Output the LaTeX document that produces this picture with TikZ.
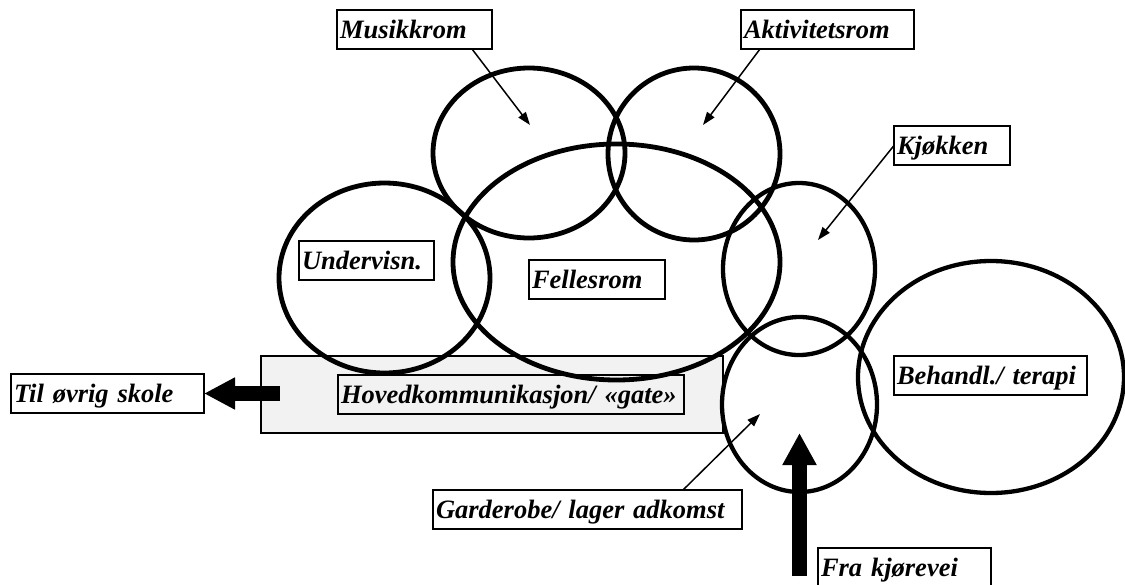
\documentclass[tikz,border=0pt]{standalone}
\usepackage{fontspec}
\setmainfont{Liberation Serif}
\usetikzlibrary{arrows.meta}
\definecolor{gatefill}{HTML}{F2F2F2}
\begin{document}
\begin{tikzpicture}[x=1pt,y=-1pt,
  room/.style={line width=4.8pt},
  lab/.style={draw, line width=1.8pt, fill=white, anchor=north west,
    inner xsep=3pt, inner ysep=0pt, outer sep=0pt, minimum height=39pt,
    text height=18pt, text depth=0pt, text width=#1, align=left,
    font=\fontsize{26.5}{30}\selectfont\bfseries\itshape},
  ptr/.style={line width=1.5pt, -{Triangle[length=13pt,width=9pt]}},
  bigarrow/.style={line width=15pt, -{Triangle[length=32pt,width=32pt]}},
]
\useasboundingbox (0,0) rectangle (1125,584);

% main corridor
\node[draw, line width=1.8pt, fill=gatefill, minimum width=462pt, minimum height=77pt,
  inner sep=0pt, outer sep=0pt] (gatebg) at (492,394.5) {};
\node[lab=340pt, fill=gatefill] (gate) at (338,375) {Hovedkommunikasjon/ «gate»};

% rooms
\draw[room] (529,153) ellipse [x radius=96pt, y radius=85pt];
\draw[room] (694,154) ellipse [x radius=86pt, y radius=86pt];
\draw[room] (616.5,262) ellipse [x radius=163.5pt, y radius=118pt];
\draw[room] (384.5,278) ellipse [x radius=105.5pt, y radius=95pt];
\draw[room, line width=4.3pt] (799,269) ellipse [x radius=76pt, y radius=86pt];
\draw[room, line width=4.3pt] (799.5,404.5) ellipse [x radius=77.5pt, y radius=87.5pt];
\draw[room, line width=4.3pt] (991,377) ellipse [x radius=133pt, y radius=116pt];

% labels
\node[lab=149pt] (mus) at (337,10) {Musikkrom};
\node[lab=167pt] (akt) at (741,10) {Aktivitetsrom};
\node[lab=110pt] (kjo) at (894,126) {Kjøkken};
\node[lab=129pt] (und) at (299,241) {Undervisn.};
\node[lab=130pt] (fel) at (529,260) {Fellesrom};
\node[lab=187pt] (til) at (11,374) {Til øvrig skole};
\node[lab=187pt] (beh) at (894,356) {Behandl./ terapi};
\node[lab=303pt] (gar) at (433,490) {Garderobe/ lager adkomst};
\node[lab=167pt] (fra) at (818,548) {Fra kjørevei};

% pointer targets
\coordinate (musT) at (530,125);
\coordinate (aktT) at (703,125);
\coordinate (kjoT) at (818,240);
\coordinate (garT) at (760,414);

\draw[ptr] ([xshift=135pt]mus.south west) -- (musT);
\draw[ptr] ([xshift=19pt]akt.south west) -- (aktT);
\draw[ptr] (kjo.west) -- (kjoT);
\draw[ptr] ([xshift=250pt]gar.north west) -- (garT);

% big arrows
\coordinate (tilS) at (280,393.5);
\draw[line width=15pt, -{Triangle[length=31pt,width=30pt]}] (tilS) -- (til.east);
\coordinate (fraS) at (799.5,576);
\coordinate (garIn) at (799.5,433);
\draw[bigarrow] (fraS) -- (garIn);
\end{tikzpicture}
\end{document}
